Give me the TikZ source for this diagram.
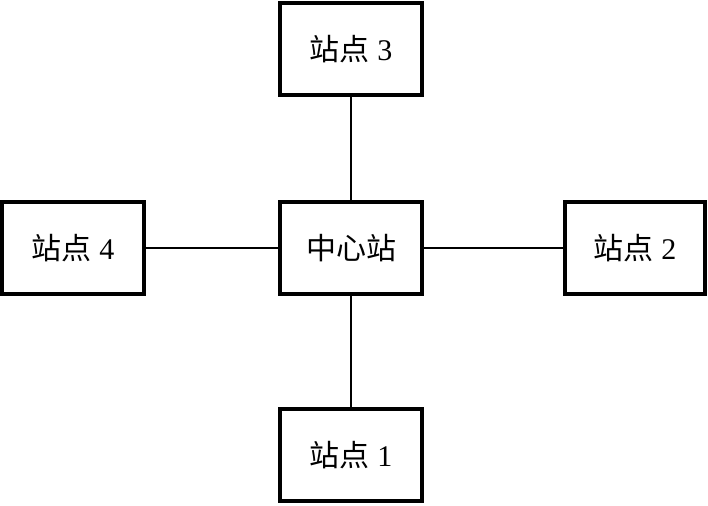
\documentclass[tikz,border=0pt]{standalone}
\usepackage{fontspec}
\setmainfont{Liberation Serif}
\newfontfamily\cjk{Noto Sans CJK SC}
\begin{document}
\begin{tikzpicture}[x=1pt,y=-1pt,
  stbox/.style={draw, line width=3.5pt, minimum width=142pt, minimum height=92pt, inner sep=0pt, font=\fontsize{30}{34}\selectfont},
  link/.style={line width=1.5pt}]
\useasboundingbox (0,0) rectangle (708,505);
\node[stbox] (c) at (351,248) {\cjk 中心站};
\node[stbox] (s3) at (351,49) {{\cjk 站点} 3};
\node[stbox] (s1) at (351,455) {{\cjk 站点} 1};
\node[stbox, minimum width=142pt] (s4) at (73,248) {{\cjk 站点} 4};
\node[stbox, minimum width=140pt] (s2) at (635,248) {{\cjk 站点} 2};
\draw[link] (c) -- (s3);
\draw[link] (c) -- (s1);
\draw[link] (c) -- (s4);
\draw[link] (c) -- (s2);
\end{tikzpicture}
\end{document}
